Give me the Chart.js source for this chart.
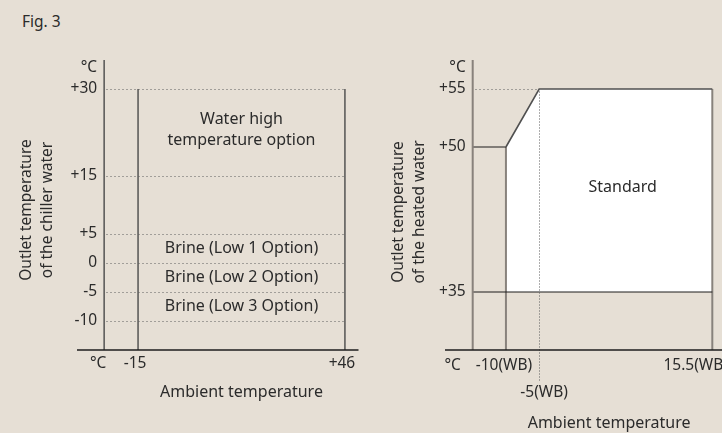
<!DOCTYPE html>
<html>
<head>
<meta charset="utf-8">
<title>Fig. 3</title>
<script src="https://cdn.jsdelivr.net/npm/chart.js@4.4.1/dist/chart.umd.min.js"></script>
<style>
  body { margin: 0; background: #e6dfd5; width: 722px; height: 433px; overflow: hidden; position: relative;
         font-family: "Noto Sans", sans-serif; color: #2b2b2b; }
  #fig { position: absolute; left: 22px; top: 11px; font-size: 15.5px; line-height: 20px; }
  canvas { position: absolute; top: 0; }
  #chiller { left: 0; }
  #heater { left: 370px; }
</style>
</head>
<body>
<div id="fig">Fig. 3</div>
<canvas id="chiller" width="370" height="433"></canvas>
<canvas id="heater" width="352" height="433"></canvas>
<script>
// ---- chiller water ----
var chillerLevels = [30, 15, 5, 0, -5, -10];
var chillerAmbient = [-15, 46];
var chillerBands = [[15, 30], [0, 5], [-5, 0], [-10, -5]];
var chillerBandNames = [['Water high', 'temperature option'], ['Brine (Low 1 Option)'],
                        ['Brine (Low 2 Option)'], ['Brine (Low 3 Option)']];

// ---- heated water ----
var heaterLevels = [55, 50, 35];
var heaterAmbient = [-10, -5, 15.5];
var heaterAmbientLabels = ['-10(WB)', '-5(WB)', '15.5(WB)'];
// standard operating envelope (ambient, outlet)
var standardAmbient = [-10, -10, -5, 15.5, 15.5];
var standardOutlet = [35, 50, 55, 55, 35];

var TEXT = '#2b2b2b';
var TICK_FONT = '15.5px "Noto Sans", sans-serif';
var FONT = '16px "Noto Sans", sans-serif';
var DARK = '#4a4a4a';
var GREY = '#88827c';
var BLACK = '#1c1c1c';
var DOTS = '#5c5c5c';

// where the vertical axis stands on each x scale
var chillerOrigin = -25;
var heaterOrigin = -15;

// linear pieces between value/fraction stops, the heated water diagram is not to scale
class SteppedScale extends Chart.LinearScale {
  determineDataLimits() {
    var s = this.options.stops;
    this.min = s[0][0];
    this.max = s[s.length - 1][0];
  }
  buildTicks() {
    return this.options.stops.map(function (s) { return { value: s[0] }; });
  }
  getPixelForValue(value) {
    var s = this.options.stops, i = 1;
    while (i < s.length - 1 && value > s[i][0]) i++;
    var a = s[i - 1], b = s[i];
    return this.getPixelForDecimal(a[1] + (value - a[0]) / (b[0] - a[0]) * (b[1] - a[1]));
  }
  getValueForPixel(pixel) {
    var d = this.getDecimalForPixel(pixel), s = this.options.stops, i = 1;
    while (i < s.length - 1 && d > s[i][1]) i++;
    var a = s[i - 1], b = s[i];
    return a[0] + (d - a[1]) / (b[1] - a[1]) * (b[0] - a[0]);
  }
}
SteppedScale.id = 'stepped';
SteppedScale.defaults = {};
Chart.register(SteppedScale);

function signed(v) { return v > 0 ? '+' + v : String(v); }

function stroke(ctx, pts, color, width, dash) {
  ctx.save();
  ctx.strokeStyle = color;
  ctx.lineWidth = width;
  ctx.setLineDash(dash || []);
  ctx.beginPath();
  ctx.moveTo(pts[0], pts[1]);
  ctx.lineTo(pts[2], pts[3]);
  ctx.stroke();
  ctx.restore();
}

// 1px dotted line snapped to the pixel grid
function dots(ctx, x1, y1, x2, y2, dash) {
  var sx = function (v) { return Math.round(v) + 0.5; };
  stroke(ctx, [sx(x1), sx(y1), sx(x2), sx(y2)], DOTS, 1, dash || [1, 3]);
}

function label(ctx, s, x, y, align) {
  ctx.textAlign = align || 'center';
  ctx.fillText(s, x, y);
}

function sideTitle(ctx, lines, cx, cy) {
  ctx.save();
  ctx.translate(cx, cy);
  ctx.rotate(-Math.PI / 2);
  ctx.textAlign = 'center';
  lines.forEach(function (s, i) { ctx.fillText(s, 0, (i - (lines.length - 1) / 2) * 21); });
  ctx.restore();
}

function segment(x1, y1, x2, y2, color, width) {
  return {
    data: [{ x: x1, y: y1 }, { x: x2, y: y2 }],
    borderColor: color, borderWidth: width, pointRadius: 0, fill: false, clip: false, order: 1
  };
}

function baseOptions(padding, scales) {
  return {
    responsive: false,
    animation: false,
    events: [],
    layout: { padding: padding },
    scales: scales,
    plugins: { legend: { display: false }, tooltip: { enabled: false } }
  };
}

// axes, tick texts and labels of the chiller diagram
var chillerDecor = {
  id: 'chillerDecor',
  afterDatasetsDraw: function (chart) {
    var ctx = chart.ctx, a = chart.chartArea, x = chart.scales.x, y = chart.scales.y;
    var ox = x.getPixelForValue(chillerOrigin);
    var xl = x.getPixelForValue(chillerAmbient[0]);
    var xr = x.getPixelForValue(chillerAmbient[chillerAmbient.length - 1]);

    chillerLevels.forEach(function (v) {
      var py = y.getPixelForValue(v);
      dots(ctx, ox + 2, py, xr - 1, py);
    });
    stroke(ctx, [ox, a.top, ox, a.bottom], DARK, 1.4);
    stroke(ctx, [a.left, a.bottom, a.right, a.bottom], BLACK, 1.3);

    ctx.save();
    ctx.fillStyle = TEXT;
    ctx.textBaseline = 'middle';
    ctx.font = TICK_FONT;
    label(ctx, '°C', ox - 7, a.top + 8, 'right');
    chillerLevels.forEach(function (v) { label(ctx, signed(v), ox - 7, y.getPixelForValue(v), 'right'); });
    label(ctx, '°C', ox - 6, a.bottom + 14);
    chillerAmbient.forEach(function (v) { label(ctx, signed(v), x.getPixelForValue(v) - 3, a.bottom + 14); });
    sideTitle(ctx, ['Outlet temperature', 'of the chiller water'], 37.5, 210);

    ctx.font = FONT;
    label(ctx, 'Ambient temperature', (xl + xr) / 2, a.bottom + 42);
    chillerBands.forEach(function (b, i) {
      var names = chillerBandNames[i];
      var cy = (y.getPixelForValue(b[0]) + y.getPixelForValue(b[1])) / 2;
      names.forEach(function (s, j) {
        label(ctx, s, (xl + xr) / 2, cy + (j - (names.length - 1) / 2) * 21 - (names.length > 1 ? 3 : 0));
      });
    });
    ctx.restore();
  }
};

// axes, guides and labels of the heated water diagram
var heaterDecor = {
  id: 'heaterDecor',
  afterDatasetsDraw: function (chart) {
    var ctx = chart.ctx, a = chart.chartArea, x = chart.scales.x, y = chart.scales.y;
    var ox = x.getPixelForValue(heaterOrigin);
    var top = Math.max.apply(null, heaterLevels);
    var xs = heaterAmbient.map(function (v) { return x.getPixelForValue(v); });
    var yTop = y.getPixelForValue(top);

    // dotted guides to the 55 corner
    dots(ctx, ox + 2, yTop, xs[1] - 2, yTop);
    dots(ctx, xs[1], yTop + 2, xs[1], a.bottom + 32, [1, 2]);

    stroke(ctx, [ox, a.top, ox, a.bottom], GREY, 2);
    stroke(ctx, [a.left, a.bottom, a.right, a.bottom], BLACK, 1.3);

    ctx.save();
    ctx.fillStyle = TEXT;
    ctx.textBaseline = 'middle';
    ctx.font = TICK_FONT;
    label(ctx, '°C', ox - 7, a.top + 8, 'right');
    heaterLevels.forEach(function (v) { label(ctx, signed(v), ox - 7, y.getPixelForValue(v), 'right'); });
    label(ctx, '°C', ox - 20, a.bottom + 16);
    label(ctx, heaterAmbientLabels[0], xs[0] - 2, a.bottom + 16);
    label(ctx, heaterAmbientLabels[1], xs[1] + 5, a.bottom + 43);
    label(ctx, heaterAmbientLabels[2], a.right + 6, a.bottom + 16, 'right');
    sideTitle(ctx, ['Outlet temperature', 'of the heated water'], 39, 212);

    ctx.font = FONT;
    label(ctx, 'Ambient temperature', (xs[0] + xs[2]) / 2, a.bottom + 73);
    label(ctx, 'Standard', (xs[1] + xs[2]) / 2 - 3,
          (yTop + y.getPixelForValue(Math.min.apply(null, heaterLevels))) / 2 - 3);
    ctx.restore();
  }
};

// ------------------ chiller water chart ------------------
var chillerY = { min: -15, max: 35 };
var chillerTop = Math.max.apply(null, chillerLevels);

new Chart(document.getElementById('chiller'), {
  type: 'line',
  data: {
    datasets: chillerAmbient.map(function (v) {
      return segment(v, chillerY.min, v, chillerTop, DARK, 1.4);
    })
  },
  options: baseOptions({ left: 77, right: 11.5, top: 60, bottom: 83 }, {
    x: { type: 'linear', display: false, min: -33, max: 50, bounds: 'data' },
    y: { type: 'linear', display: false, min: chillerY.min, max: chillerY.max, bounds: 'data' }
  }),
  plugins: [chillerDecor]
});

// ------------------ heated water chart ------------------
var heaterYStops = [[30, 0], [35, 0.2], [50, 0.7], [55, 0.9], [57.5, 1]];
var heaterXStops = [[-19, 0], [-15, 0.1], [-10, 0.22], [-5, 0.34], [15.5, 0.965], [16.5, 1]];
var heaterBottom = heaterYStops[0][0];
var last = standardAmbient.length - 1;

var heaterSets = [
  {
    // the standard range, filled down to its base
    data: standardAmbient.map(function (v, i) { return { x: v, y: standardOutlet[i] }; }),
    fill: { value: standardOutlet[0] },
    backgroundColor: '#ffffff',
    borderWidth: 0,
    pointRadius: 0,
    clip: false,
    order: 5
  },
  segment(heaterOrigin, standardOutlet[1], standardAmbient[0], standardOutlet[1], BLACK, 1.2),
  segment(heaterOrigin, standardOutlet[0], standardAmbient[last], standardOutlet[last], BLACK, 1.2),
  segment(standardAmbient[0], heaterBottom, standardAmbient[0], standardOutlet[1], GREY, 2),
  segment(standardAmbient[last], heaterBottom, standardAmbient[last], standardOutlet[last - 1], GREY, 2),
  {
    // upper edge: ramp and top limit
    data: standardAmbient.slice(1, last).map(function (v, i) { return { x: v, y: standardOutlet[i + 1] }; }),
    borderColor: '#505050', borderWidth: 1.6, pointRadius: 0, fill: false, clip: false, order: 0
  }
];

new Chart(document.getElementById('heater'), {
  type: 'line',
  data: { datasets: heaterSets },
  options: baseOptions({ left: 75, right: 0, top: 60, bottom: 83 }, {
    x: { type: 'stepped', display: false, stops: heaterXStops },
    y: { type: 'stepped', display: false, stops: heaterYStops }
  }),
  plugins: [heaterDecor]
});
</script>
</body>
</html>
